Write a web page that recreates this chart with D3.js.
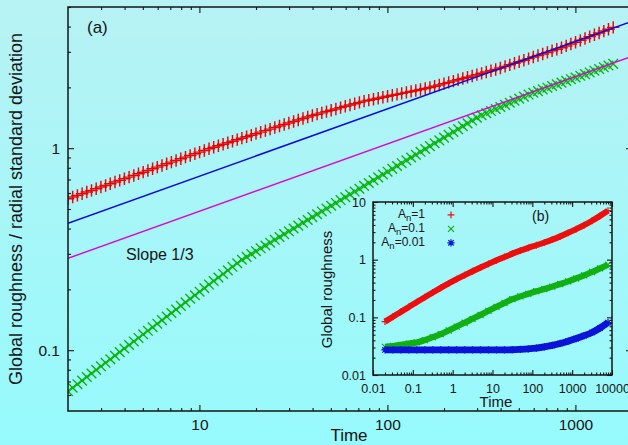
<!DOCTYPE html>
<html>
<head>
<meta charset="utf-8">
<script src="https://cdn.jsdelivr.net/npm/d3@7"></script>
<style>
  html, body { margin: 0; padding: 0; background: #a8f6f8; }
  svg { display: block; font-family: "Liberation Sans", Arial, Helvetica, sans-serif; }
</style>
</head>
<body>
<svg id="chart" width="628" height="445"></svg>
<script>
// ---------- main panel (a) ----------
const times = [
  2.000, 2.118, 2.244, 2.377, 2.518, 2.667, 2.825, 2.992, 3.170, 3.357,
  3.556, 3.767, 3.990, 4.227, 4.477, 4.742, 5.023, 5.321, 5.636, 5.970,
  6.324, 6.699, 7.096, 7.516, 7.962, 8.433, 8.933, 9.462, 10.02, 10.62,
  11.25, 11.91, 12.62, 13.37, 14.16, 15.00, 15.89, 16.83, 17.83, 18.88,
  20.00, 21.18, 22.44, 23.77, 25.18, 26.67, 28.25, 29.92, 31.70, 33.57,
  35.56, 37.67, 39.90, 42.27, 44.77, 47.42, 50.23, 53.21, 56.36, 59.70,
  63.24, 66.99, 70.96, 75.16, 79.62, 84.33, 89.33, 94.62, 100.2, 106.2,
  112.5, 119.1, 126.2, 133.7, 141.6, 150.0, 158.9, 168.3, 178.3, 188.8,
  200.0, 211.8, 224.4, 237.7, 251.8, 266.7, 282.5, 299.2, 317.0, 335.7,
  355.6, 376.7, 399.0, 422.7, 447.7, 474.2, 502.3, 532.1, 563.6, 597.0,
  632.4, 669.9, 709.6, 751.6, 796.2, 843.3, 893.3, 946.2, 1002, 1062,
  1125, 1191, 1262, 1337, 1416, 1500, 1589
];
// global roughness (red +)
const roughness = [
  0.562, 0.573, 0.584, 0.595, 0.607, 0.618, 0.630, 0.642, 0.654, 0.667,
  0.680, 0.693, 0.706, 0.719, 0.733, 0.747, 0.761, 0.776, 0.791, 0.806,
  0.821, 0.837, 0.853, 0.869, 0.886, 0.903, 0.920, 0.938, 0.956, 0.974,
  0.993, 1.010, 1.028, 1.046, 1.064, 1.083, 1.102, 1.121, 1.140, 1.160,
  1.180, 1.201, 1.222, 1.243, 1.265, 1.287, 1.309, 1.332, 1.355, 1.379,
  1.403, 1.427, 1.452, 1.474, 1.496, 1.518, 1.541, 1.564, 1.588, 1.612,
  1.636, 1.661, 1.686, 1.710, 1.729, 1.748, 1.768, 1.787, 1.807, 1.827,
  1.847, 1.868, 1.889, 1.910, 1.931, 1.952, 1.974, 1.997, 2.026, 2.056,
  2.087, 2.118, 2.149, 2.181, 2.213, 2.246, 2.279, 2.313, 2.347, 2.382,
  2.417, 2.453, 2.496, 2.540, 2.586, 2.632, 2.679, 2.727, 2.776, 2.826,
  2.876, 2.928, 2.980, 3.034, 3.088, 3.143, 3.209, 3.278, 3.348, 3.419,
  3.492, 3.567, 3.643, 3.720, 3.800, 3.881, 3.964
];
// radial standard deviation (green x)
const radialStd = [
  0.0626, 0.0652, 0.0679, 0.0707, 0.0737, 0.0767, 0.0799, 0.0832, 0.0866, 0.0902,
  0.0939, 0.0978, 0.1019, 0.1061, 0.1105, 0.1150, 0.1198, 0.1247, 0.1299, 0.1353,
  0.1409, 0.1467, 0.1528, 0.1591, 0.1657, 0.1725, 0.1797, 0.1871, 0.1948, 0.2029,
  0.2113, 0.2200, 0.2291, 0.2386, 0.2484, 0.2587, 0.2694, 0.2805, 0.2897, 0.2993,
  0.3091, 0.3193, 0.3298, 0.3406, 0.3518, 0.3634, 0.3754, 0.3877, 0.4005, 0.4136,
  0.4272, 0.4413, 0.4558, 0.4708, 0.4863, 0.5023, 0.5188, 0.5359, 0.5535, 0.5717,
  0.5905, 0.6099, 0.6300, 0.6507, 0.6721, 0.6942, 0.7170, 0.7406, 0.7650, 0.7901,
  0.8161, 0.8429, 0.8706, 0.8993, 0.9288, 0.9594, 0.9909, 1.024, 1.058, 1.093,
  1.128, 1.166, 1.204, 1.243, 1.284, 1.327, 1.370, 1.415, 1.456, 1.491,
  1.527, 1.563, 1.600, 1.638, 1.678, 1.718, 1.759, 1.800, 1.843, 1.881,
  1.917, 1.955, 1.993, 2.032, 2.072, 2.112, 2.154, 2.196, 2.239, 2.282,
  2.327, 2.372, 2.419, 2.466, 2.514, 2.564, 2.614
];
// slope-1/3 reference lines, given by their end points
const refTimes = [2, 2000];
const refBlue = [0.425, 4.25];
const refMagenta = [0.285, 2.85];

const mainXTicks = [10, 100, 1000];
const mainXMinor = [3, 4, 5, 6, 7, 8, 9, 20, 30, 40, 50, 60, 70, 80, 90,
                    200, 300, 400, 500, 600, 700, 800, 900, 2000];
const mainYTicks = [0.1, 1];
const mainYMinor = [0.06, 0.07, 0.08, 0.09, 0.2, 0.3, 0.4, 0.5, 0.6, 0.7, 0.8, 0.9, 2, 3, 4, 5];
const mainXLabels = ["10", "100", "1000"];
const mainYLabels = ["0.1", "1"];

// ---------- inset panel (b) ----------
const insetTimes = [0.02, 0.0316, 0.0501, 0.0794, 0.126, 0.2, 0.316, 0.501, 0.794, 1.26,
  2, 3.16, 5.01, 7.94, 12.6, 20, 31.6, 50.1, 79.4, 126,
  200, 316, 501, 794, 1260, 2000, 3160, 5010, 7940];
const insetA1 = [0.0841, 0.1023, 0.1245, 0.1514, 0.1841, 0.2234, 0.2698, 0.3243, 0.3873, 0.4592,
  0.5395, 0.6295, 0.7311, 0.8453, 0.9727, 1.114, 1.271, 1.435, 1.603, 1.778,
  1.982, 2.228, 2.535, 2.917, 3.388, 3.963, 4.732, 5.754, 7.079];
const insetA01 = [0.0308, 0.0318, 0.0333, 0.0351, 0.0367, 0.0403, 0.0452, 0.0513, 0.0592, 0.0692,
  0.0805, 0.0942, 0.1104, 0.1297, 0.1521, 0.1778, 0.2065, 0.2307, 0.2559, 0.2831,
  0.3090, 0.3404, 0.3776, 0.4207, 0.4721, 0.5346, 0.6109, 0.7047, 0.8185];
const insetA001 = [0.0272, 0.0272, 0.0272, 0.0272, 0.0272, 0.0272, 0.0272, 0.0272, 0.0272, 0.0272,
  0.0272, 0.0272, 0.0272, 0.0272, 0.02728, 0.02735, 0.02742, 0.0278, 0.02838, 0.02924,
  0.03062, 0.03258, 0.03524, 0.03864, 0.04285, 0.04808, 0.0547, 0.06531, 0.08128];

const insetXTicks = [0.01, 0.1, 1, 10, 100, 1000, 10000];
const insetXLabels = ["0.01", "0.1", "1", "10", "100", "1000", "10000"];
const insetYTicks = [0.01, 0.1, 1, 10];
const insetYLabels = ["0.01", "0.1", "1", "10"];
const legendLabels = ["1", "0.1", "0.01"];

// ---------- drawing ----------
const W = 628, H = 445;
const svg = d3.select("#chart");
const defs = svg.append("defs");
const grad = defs.append("linearGradient").attr("id", "bg")
  .attr("x1", 0).attr("y1", 0).attr("x2", 0).attr("y2", 1);
grad.append("stop").attr("offset", "0%").attr("stop-color", "#b7f2f4");
grad.append("stop").attr("offset", "100%").attr("stop-color", "#96fafc");
svg.append("rect").attr("width", W).attr("height", H).attr("fill", "url(#bg)");

const INK = "#151515";
const mainBox = { left: 68, right: 632, top: 7, bottom: 411 };
const insetBox = { left: 373, right: 612, top: 202, bottom: 375 };

// minor ticks 2..9 inside every decade of a log scale
function logMinor(scale) {
  const [a, b] = scale.domain();
  const out = [];
  for (let e = Math.floor(Math.log10(a)); e < Math.ceil(Math.log10(b)); e++) {
    for (let k = 2; k <= 9; k++) out.push(+(k * Math.pow(10, e)).toPrecision(3));
  }
  return out.filter(v => v >= a && v <= b);
}

function drawFrame(xs, ys, box, spec) {
  const g = svg.append("g");
  const put = (axis, tx, ty, vals, size, labels, pad) => {
    axis.tickValues(vals).tickSize(size).tickSizeOuter(0).tickPadding(pad)
      .tickFormat(labels ? ((d, i) => labels[i]) : () => "");
    const a = g.append("g").attr("transform", `translate(${tx},${ty})`).call(axis);
    a.attr("font-family", null).attr("font-size", spec.font).attr("color", INK);
    a.select(".domain").remove();
    a.selectAll("line").attr("stroke-width", 1.1);
    return a;
  };
  put(d3.axisBottom(xs), 0, box.bottom, spec.xTicks, -spec.major, spec.xLabels, spec.padX);
  put(d3.axisBottom(xs), 0, box.bottom, spec.xMinor, -spec.minor, null, 0);
  put(d3.axisTop(xs), 0, box.top, spec.xTicks, -spec.major, null, 0);
  put(d3.axisTop(xs), 0, box.top, spec.xMinor, -spec.minor, null, 0);
  put(d3.axisLeft(ys), box.left, 0, spec.yTicks, -spec.major, spec.yLabels, spec.padY);
  put(d3.axisLeft(ys), box.left, 0, spec.yMinor, -spec.minor, null, 0);
  put(d3.axisRight(ys), box.right, 0, spec.yTicks, -spec.major, null, 0);
  put(d3.axisRight(ys), box.right, 0, spec.yMinor, -spec.minor, null, 0);
  g.append("rect").attr("x", box.left).attr("y", box.top)
    .attr("width", box.right - box.left).attr("height", box.bottom - box.top)
    .attr("fill", "none").attr("stroke", INK).attr("stroke-width", 1.5);
}

const plusPath = s => `M${-s},0H${s}M0,${-s}V${s}`;
const timesPath = s => `M${-s},${-s}L${s},${s}M${-s},${s}L${s},${-s}`;
const starPath = s => plusPath(s) + timesPath(s * 0.75);

function drawMarkers(g, xs, ys, xv, yv, path, color, width) {
  g.append("g").selectAll("path").data(xv.map((t, i) => [t, yv[i]])).join("path")
    .attr("transform", d => `translate(${xs(d[0])},${ys(d[1])})`)
    .attr("d", path).attr("fill", "none").attr("stroke", color).attr("stroke-width", width);
}

// main scales
const x = d3.scaleLog().domain([2, 2000]).range([mainBox.left, mainBox.right]);
const y = d3.scaleLog().domain([0.05, 5]).range([mainBox.bottom, mainBox.top]);

defs.append("clipPath").attr("id", "clipMain").append("rect")
  .attr("x", mainBox.left).attr("y", mainBox.top)
  .attr("width", mainBox.right - mainBox.left).attr("height", mainBox.bottom - mainBox.top);

const plotA = svg.append("g").attr("clip-path", "url(#clipMain)");
drawMarkers(plotA, x, y, times, roughness, plusPath(6.2), "#f00000", 1.45);
drawMarkers(plotA, x, y, times, radialStd, timesPath(4.8), "#08b408", 1.35);

const refLine = d3.line().x(d => x(d[0])).y(d => y(d[1]));
plotA.append("path").datum(refTimes.map((t, i) => [t, refBlue[i]]))
  .attr("d", refLine).attr("fill", "none").attr("stroke", "#0a0adc").attr("stroke-width", 1.5);
plotA.append("path").datum(refTimes.map((t, i) => [t, refMagenta[i]]))
  .attr("d", refLine).attr("fill", "none").attr("stroke", "#dc00dc").attr("stroke-width", 1.4);

drawFrame(x, y, mainBox, {
  xTicks: mainXTicks, xMinor: mainXMinor, xLabels: mainXLabels,
  yTicks: mainYTicks, yMinor: mainYMinor, yLabels: mainYLabels,
  major: 6, minor: 3, font: 15.5, padX: 8, padY: 8
});

svg.append("text").attr("x", 87).attr("y", 33).attr("font-size", 17).attr("fill", INK).text("(a)");
svg.append("text").attr("x", 126).attr("y", 260).attr("font-size", 16).attr("fill", INK).text("Slope 1/3");
svg.append("text").attr("transform", "translate(21.5,209) rotate(-90)")
  .attr("text-anchor", "middle").attr("font-size", 18).attr("fill", INK)
  .text("Global roughness / radial standard deviation");
svg.append("text").attr("x", 349).attr("y", 441).attr("text-anchor", "middle")
  .attr("font-size", 17).attr("fill", INK).text("Time");

// inset scales
const xi = d3.scaleLog().domain([0.01, 10000]).range([insetBox.left, insetBox.right]);
const yi = d3.scaleLog().domain([0.01, 10]).range([insetBox.bottom, insetBox.top]);

const plotB = svg.append("g");
const insetLine = d3.line().x(d => xi(d[0])).y(d => yi(d[1])).curve(d3.curveMonotoneX);
const insetSeries = [
  { values: insetA1, color: "#ee0e0e", width: 6, marker: plusPath(3.4) },
  { values: insetA01, color: "#12b012", width: 6.2, marker: timesPath(3) },
  { values: insetA001, color: "#0c14d8", width: 6.8, marker: starPath(3.6) }
];
insetSeries.forEach(s => {
  plotB.append("path").datum(insetTimes.map((t, i) => [t, s.values[i]]))
    .attr("d", insetLine).attr("fill", "none").attr("stroke", s.color)
    .attr("stroke-width", s.width);
  drawMarkers(plotB, xi, yi, insetTimes, s.values, s.marker, s.color, 1.2);
});

drawFrame(xi, yi, insetBox, {
  xTicks: insetXTicks, xMinor: logMinor(xi), xLabels: insetXLabels,
  yTicks: insetYTicks, yMinor: logMinor(yi), yLabels: insetYLabels,
  major: 5, minor: 2.5, font: 12.5, padX: 9, padY: 7
});

svg.append("text").attr("x", 532).attr("y", 221).attr("font-size", 14).attr("fill", INK).text("(b)");
svg.append("text").attr("x", 496).attr("y", 407).attr("text-anchor", "middle")
  .attr("font-size", 15).attr("fill", INK).text("Time");
svg.append("text").attr("transform", "translate(332,289.5) rotate(-90)")
  .attr("text-anchor", "middle").attr("font-size", 15).attr("fill", INK).text("Global roughness");

// legend
const legendY = [218.3, 232.3, 246.3];
legendLabels.forEach((lab, i) => {
  const t = svg.append("text").attr("x", 425).attr("y", legendY[i])
    .attr("text-anchor", "end").attr("font-size", 12).attr("fill", INK);
  t.append("tspan").text("A");
  t.append("tspan").attr("font-size", 9.5).attr("dy", 3).text("n");
  t.append("tspan").attr("dy", -3).text("=" + lab);
  svg.append("path").attr("transform", `translate(451,${legendY[i] - 3.5})`)
    .attr("d", insetSeries[i].marker).attr("fill", "none")
    .attr("stroke", insetSeries[i].color).attr("stroke-width", 1.2);
});
</script>
</body>
</html>
